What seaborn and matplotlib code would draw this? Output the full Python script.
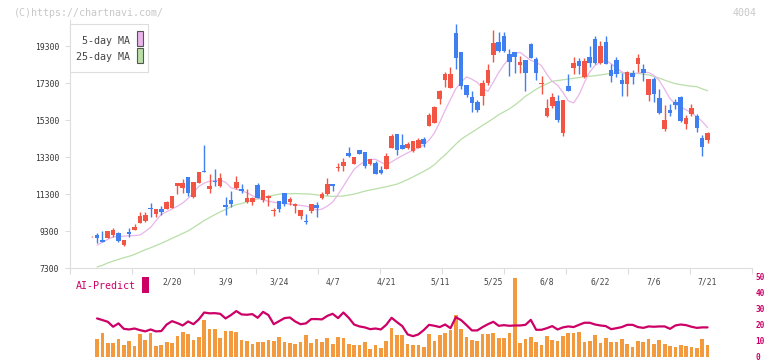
import numpy as np
import pandas as pd
import matplotlib
matplotlib.use("Agg")
import matplotlib.pyplot as plt
import matplotlib.transforms as mtransforms
from matplotlib.patches import Rectangle
import seaborn as sns

# daily candles (yen), oldest first
opens = [9020, 9080, 8830, 8960, 9100, 9190, 8560, 9260, 9370, 9770,
         9870, 10580, 10220, 10520, 10520, 10540, 11750, 11620, 12220, 11170,
         11900, 12580, 11600, 12040, 11750, 10720, 10990, 11620, 11590, 10880,
         10900, 11800, 10990, 11080, 10400, 10940, 11390, 10900, 10680, 10140,
         9860, 10410, 10720, 11080, 11300, 11860, 12740, 12830, 13520, 12940,
         13700, 13570, 12940, 12980, 12600, 12680, 13790, 14560, 13970, 13790,
         13660, 13820, 14290, 15010, 15170, 16450, 17480, 17060, 20040, 18980,
         17210, 16580, 16270, 16630, 17300, 18830, 19520, 19860, 18880, 18980,
         18310, 18560, 19430, 18610, 17280, 15550, 16090, 16340, 14630, 17150,
         18110, 18510, 17660, 18710, 19700, 18380, 19520, 18020, 18560, 17480,
         17260, 17870, 18340, 18070, 16670, 17530, 16490, 14830, 15860, 16310,
         16540, 15080, 15620, 15530, 14330, 14240]
highs = [9050, 9190, 9330, 9330, 9490, 9250, 8840, 9460, 9680, 10330,
         10330, 10810, 10520, 10670, 10940, 11230, 11920, 12140, 12220, 11970,
         12510, 13960, 12400, 12670, 12440, 11170, 11500, 12290, 11860, 11590,
         11170, 11890, 11530, 11270, 10580, 10940, 11390, 11170, 10850, 10450,
         10240, 10780, 10900, 11410, 12200, 11860, 12980, 13250, 13860, 13320,
         13700, 13570, 13210, 13100, 12830, 13550, 14560, 14560, 14560, 14140,
         14200, 14330, 14380, 15680, 16070, 16940, 17900, 18180, 20510, 18980,
         17210, 16880, 16400, 17480, 18360, 20180, 20090, 20060, 19150, 18980,
         18790, 18560, 19460, 18710, 17700, 16450, 16760, 16670, 16400, 17800,
         18710, 18680, 18650, 19320, 19860, 19590, 19860, 18340, 18710, 17880,
         17980, 18020, 18880, 18340, 17530, 17660, 16980, 16130, 16180, 16430,
         16610, 15590, 16180, 15640, 14510, 14680]
lows = [9010, 8690, 8700, 8950, 9010, 8740, 8520, 9010, 9370, 9770,
        9820, 10060, 10060, 10180, 10520, 10540, 11320, 11350, 11220, 11120,
        11900, 12500, 11390, 11750, 11680, 10180, 10600, 11570, 11390, 10810,
        10720, 11080, 10900, 10690, 10140, 10350, 10680, 10720, 10310, 9950,
        9680, 10270, 10090, 11050, 11260, 11480, 12560, 12580, 13300, 12940,
        13460, 12740, 12900, 12400, 12400, 12680, 13790, 13430, 13750, 13750,
        13600, 13820, 13870, 15010, 15170, 16180, 17120, 17060, 18060, 16990,
        16580, 15770, 15730, 16130, 17210, 18470, 18980, 18980, 17710, 17840,
        17880, 16900, 18650, 17480, 16720, 15500, 15980, 15230, 14450, 16900,
        17790, 17790, 17600, 18200, 18330, 18330, 18330, 17390, 17660, 16630,
        16630, 17260, 17930, 17440, 16360, 16310, 15630, 14720, 15550, 15900,
        15230, 14830, 15530, 14680, 13390, 14060]
closes = [9040, 8960, 8720, 9330, 9370, 8790, 8830, 9160, 9550, 10130,
          10180, 10490, 10490, 10360, 10880, 11190, 11920, 11900, 11390, 11970,
          12510, 12510, 11750, 11980, 12170, 10630, 10780, 11970, 11500, 11100,
          11080, 11080, 11530, 11230, 10450, 10510, 10760, 11050, 10780, 10450,
          9790, 10780, 10540, 11320, 11860, 11770, 12770, 13030, 13370, 13320,
          13460, 12850, 13210, 12400, 12470, 13370, 14450, 13700, 13750, 14020,
          14200, 14240, 14020, 15590, 16020, 16900, 17800, 17800, 18680, 17170,
          16670, 16250, 15860, 17300, 18020, 19460, 19060, 19050, 18470, 18700,
          18440, 17840, 18680, 17840, 17310, 15950, 16580, 15330, 16400, 16900,
          18410, 18250, 18510, 18410, 18380, 19320, 18330, 17710, 17790, 17260,
          17900, 17660, 18670, 17840, 17530, 16720, 15680, 15320, 15710, 16130,
          15280, 15410, 15950, 14870, 13870, 14600]
nan = float("nan")
ma5 = [nan, 8550, 8710, 8860, 9000, 9020, 9040, 9060, 9070, 9100,
       9290, 9510, 9880, 10210, 10360, 10510, 10650, 10830, 11080, 11380,
       11730, 11900, 12010, 12040, 12080, 11950, 11660, 11570, 11500, 11380,
       11230, 11080, 11000, 10920, 10870, 10840, 10800, 10770, 10730, 10700,
       10660, 10600, 10450, 10500, 10660, 10880, 11280, 11740, 12200, 12650,
       12890, 13090, 13190, 13190, 13040, 12900, 13050, 13230, 13390, 13540,
       13680, 13820, 13970, 14230, 14610, 15200, 15840, 16430, 17010, 17360,
       17650, 17520, 17350, 17020, 16870, 17370, 17880, 18310, 18670, 18920,
       18970, 18750, 18540, 18450, 18250, 17780, 17400, 17200, 16810, 16350,
       16240, 16680, 17340, 17920, 18260, 18450, 18540, 18360, 18120, 17920,
       17750, 17800, 17850, 17900, 17880, 17730, 17450, 16970, 16470, 16190,
       16010, 15870, 15690, 15490, 15240, 14910]
ma25 = [nan, 7370, 7460, 7590, 7690, 7780, 7870, 7950, 8050, 8180,
        8300, 8410, 8530, 8650, 8780, 8920, 9050, 9190, 9320, 9500,
        9690, 9880, 10040, 10200, 10350, 10480, 10620, 10740, 10800, 10900,
        10970, 11050, 11130, 11190, 11250, 11310, 11330, 11330, 11340, 11330,
        11320, 11310, 11270, 11230, 11200, 11190, 11190, 11210, 11260, 11310,
        11390, 11470, 11530, 11590, 11650, 11710, 11780, 11850, 11970, 12100,
        12240, 12390, 12540, 12700, 12900, 13180, 13430, 13720, 14010, 14280,
        14470, 14650, 14840, 15030, 15210, 15400, 15600, 15760, 15920, 16120,
        16350, 16600, 16780, 16980, 17140, 17270, 17410, 17450, 17490, 17530,
        17570, 17610, 17650, 17680, 17710, 17750, 17800, 17830, 17850, 17870,
        17860, 17840, 17830, 17800, 17750, 17670, 17580, 17470, 17370, 17280,
        17230, 17180, 17140, 17120, 17000, 16900]

# lower panel, from the second session on
volume = [11.1, 14.8, 8.6, 8.6, 11.1, 7.3, 9.8, 6.7, 14.2, 10.4,
          14.8, 6.7, 7.3, 9.2, 8.6, 12.9, 15.4, 14.2, 10.4, 12.3,
          22.9, 17.3, 17.3, 11.7, 16.1, 16.1, 15.4, 10.4, 9.8, 7.9,
          9.2, 9.2, 10.4, 9.8, 12.3, 9.2, 8.6, 7.9, 9.2, 13.6,
          8.6, 11.1, 9.2, 11.7, 7.9, 12.3, 11.7, 7.9, 7.3, 7.3,
          9.2, 4.8, 7.3, 5.4, 9.8, 17.9, 13.6, 13.6, 7.9, 7.3,
          7.3, 6.1, 14.2, 9.8, 13.6, 14.8, 16.7, 26.1, 17.3, 12.3,
          10.4, 9.8, 14.2, 14.2, 14.8, 11.7, 11.7, 14.8, 49.2, 8.6,
          11.1, 12.3, 9.2, 7.3, 12.9, 10.4, 9.8, 12.9, 14.8, 14.8,
          15.4, 9.2, 9.8, 13.6, 8.6, 11.7, 9.2, 9.2, 11.1, 7.9,
          6.1, 9.8, 9.2, 11.1, 7.9, 10.4, 7.9, 6.7, 6.1, 7.3,
          6.7, 6.1, 5.4, 11.1, 7.3]
ai_predict = [24.0, 23.0, 21.9, 18.8, 20.9, 17.5, 17.1, 17.7, 16.7, 15.9,
              17.1, 15.9, 16.1, 20.2, 22.3, 21.1, 19.6, 22.1, 20.4, 23.4,
              27.7, 27.2, 27.3, 26.9, 24.0, 26.1, 28.6, 26.5, 26.3, 26.7,
              24.4, 28.1, 26.1, 20.4, 22.3, 24.2, 24.6, 22.1, 20.4, 20.9,
              23.6, 23.6, 23.4, 25.6, 26.9, 24.2, 27.7, 24.4, 20.2, 19.0,
              18.4, 17.3, 17.7, 17.1, 20.0, 24.4, 21.7, 19.2, 14.0, 12.9,
              14.0, 16.7, 20.0, 19.4, 18.6, 20.2, 17.9, 24.8, 22.9, 19.8,
              16.5, 16.5, 18.6, 20.4, 21.9, 19.4, 19.8, 19.4, 19.6, 19.6,
              20.0, 23.1, 16.9, 16.9, 17.9, 19.2, 17.1, 18.4, 19.0, 18.6,
              20.0, 21.3, 21.3, 20.2, 19.6, 19.2, 17.3, 17.9, 18.6, 20.0,
              20.0, 18.6, 18.1, 19.0, 18.8, 19.0, 19.0, 17.5, 19.6, 20.2,
              19.8, 18.8, 18.1, 18.4, 18.4]

date_labels = ["2/20", "3/9", "3/24", "4/7", "4/21", "5/11",
               "5/25", "6/8", "6/22", "7/6", "7/21"]
price_ticks = [7300, 9300, 11300, 13300, 15300, 17300, 19300]
sub_ticks = [0, 10, 20, 30, 40, 50]

W, H = 772, 361
RED, BLUE = "#f25544", "#3f7ff0"
PINK, GREEN = "#e9b5ea", "#b9dfa8"
ORANGE, CRIMSON = "#f39a3e", "#cc0066"
AXIS = "#dddddd"
FIRST_PX, PITCH_PX = 91.7, 5.355   # pixel x of first candle, candle spacing


def fig_box(x0, y0, x1, y1):
    # pixel box (top-left origin) -> figure fraction
    return [x0 / W, 1 - y1 / H, (x1 - x0) / W, (y1 - y0) / H]


def px_to_day(px):
    return (np.asarray(px, dtype=float) - FIRST_PX) / PITCH_PX


sns.set_theme(style="white")
plt.rcParams["font.family"] = ["DejaVu Sans Mono"]

fig = plt.figure(figsize=(W / 100, H / 100), dpi=100)
ax = fig.add_axes(fig_box(70, 20, 752, 268.3))
axv = fig.add_axes(fig_box(70, 274, 752, 356.8))
axv.patch.set_alpha(0)

df = pd.DataFrame({"open": opens, "high": highs, "low": lows,
                   "close": closes, "ma5": ma5, "ma25": ma25})
df["day"] = np.arange(len(df))
colors = np.where(df["close"] >= df["open"], RED, BLUE)

sns.lineplot(data=df, x="day", y="ma25", ax=ax, color=GREEN, linewidth=0.9, zorder=1)
sns.lineplot(data=df, x="day", y="ma5", ax=ax, color=PINK, linewidth=0.9, zorder=1)
ax.vlines(df["day"], df["low"], df["high"], colors=colors, linewidth=1.0, zorder=2)
body_lo = df[["open", "close"]].min(axis=1)
body_h = (df["close"] - df["open"]).abs().clip(lower=50)
ax.bar(df["day"], body_h, bottom=body_lo, width=0.85, color=colors, linewidth=0, zorder=3)

xlim = tuple(px_to_day([70, 752]))
ax.set_xlim(*xlim)
ax.set_ylim(7300, 20722)
ax.set_xlabel("")
ax.set_ylabel("")
for side in ["top", "right"]:
    ax.spines[side].set_visible(False)
for side in ["left", "bottom"]:
    ax.spines[side].set_color(AXIS)
    ax.spines[side].set_linewidth(0.8)
ax.set_yticks(price_ticks)
ax.set_xticks(px_to_day(np.arange(70, 753, 62)))
ax.tick_params(axis="y", left=True, length=3.6, width=0.8, color=AXIS,
               labelsize=5.8, labelcolor="#333333", pad=4.1)
ax.tick_params(axis="x", bottom=True, length=4, width=0.8, color=AXIS,
               labelbottom=False)

# lower panel: volume bars + AI-Predict line
sub = pd.DataFrame({"day": np.arange(1, len(df)), "volume": volume, "ai": ai_predict})
axv.bar(sub["day"], sub["volume"], width=0.69, color=ORANGE, linewidth=0, zorder=1)
sns.lineplot(data=sub, x="day", y="ai", ax=axv, color=CRIMSON, linewidth=1.6, zorder=2)
axv.set_xlim(*xlim)
axv.set_ylim(0, 51.8)
axv.set_xlabel("")
axv.set_ylabel("")
for side in axv.spines:
    axv.spines[side].set_visible(False)
axv.set_xticks([])
axv.yaxis.tick_right()
axv.set_yticks(sub_ticks)
axv.tick_params(axis="y", right=True, length=0, labelsize=5.6,
                labelcolor=CRIMSON, pad=2.7)
for lab in axv.get_yticklabels():
    lab.set_fontweight("bold")

# date labels, every 10 sessions
date_tr = mtransforms.blended_transform_factory(ax.transData, fig.transFigure)
for k, lab in enumerate(date_labels):
    fig.text(15 + 10 * k, 1 - 282.3 / H, lab, transform=date_tr, ha="center",
             va="center", fontsize=5.8, color="#444444", zorder=4)

fig.text(76 / W, 1 - 285.8 / H, "AI-Predict", color=CRIMSON, fontsize=7.2,
         ha="left", va="center")
fig.add_artist(Rectangle((142 / W, 1 - 292.7 / H), 7 / W, 15.4 / H,
                         transform=fig.transFigure, color=CRIMSON, lw=0))

# header texts
fig.text(14 / W, 1 - 12.7 / H, "(C)https://chartnavi.com/", color="#c8c8c8",
         fontsize=7.2, ha="left", va="center")
fig.text(757 / W, 1 - 12.7 / H, "4004", color="#c8c8c8", fontsize=7.2,
         ha="right", va="center")

# legend box
fig.add_artist(Rectangle((70 / W, 1 - 72 / H), 78 / W, 48 / H, transform=fig.transFigure,
                         facecolor="white", edgecolor=AXIS, lw=0.8, zorder=5))
for y_txt, y0, label, col in [(40.8, 31.3, "5-day MA", PINK), (57.3, 48.3, "25-day MA", GREEN)]:
    fig.text(130 / W, 1 - y_txt / H, label, color="#444444", fontsize=7.2,
             ha="right", va="center", zorder=6)
    fig.add_artist(Rectangle((136.7 / W, 1 - (y0 + 14.7) / H), 6 / W, 14.7 / H,
                             transform=fig.transFigure, facecolor=col,
                             edgecolor="#555555", lw=0.8, zorder=6))

fig.savefig("out.png", dpi=100)
plt.close(fig)
